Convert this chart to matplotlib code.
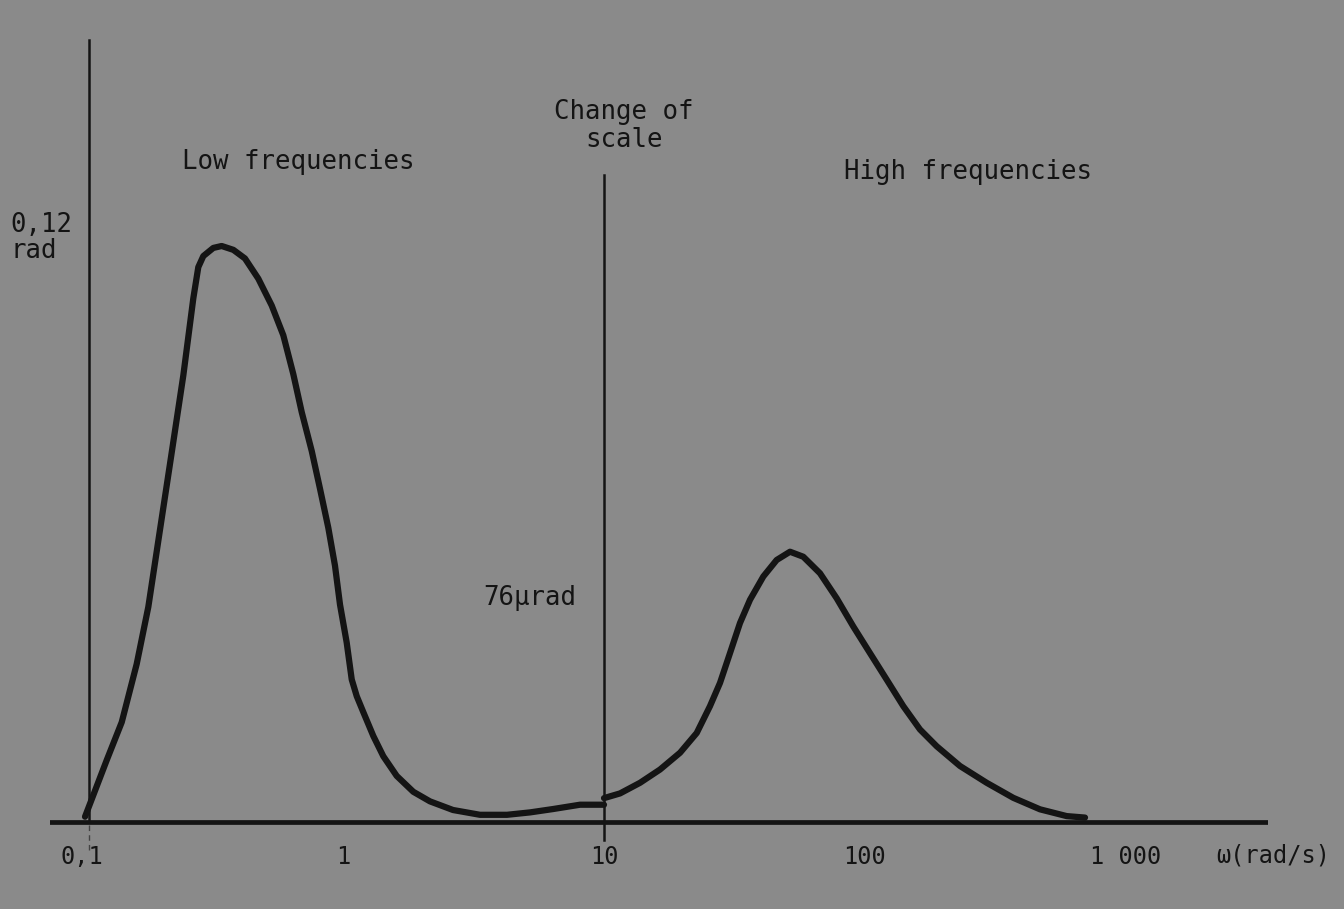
import numpy as np
import matplotlib.pyplot as plt
from matplotlib.ticker import NullLocator

plt.rcParams['font.family'] = ['DejaVu Sans Mono', 'DejaVu Sans']

# low-frequency band, amplitude in rad
omega_low = [0.1027, 0.1089, 0.1244, 0.1420, 0.1620, 0.1795, 0.1990, 0.2207,
             0.2444, 0.2670, 0.2790, 0.2916, 0.3185, 0.3429, 0.3800, 0.4212,
             0.4737, 0.5332, 0.5906, 0.6451, 0.6947, 0.7589, 0.8166, 0.8784,
             0.9318, 0.9739, 1.033, 1.080, 1.129, 1.196, 1.307, 1.427,
             1.606, 1.859, 2.154, 2.639, 3.349, 4.250, 5.206, 6.378,
             8.091, 10.0]
theta_low = [0.0011, 0.0047, 0.0129, 0.0208, 0.0329, 0.0448, 0.0609, 0.0770,
             0.0930, 0.1091, 0.1156, 0.1179, 0.1196, 0.1200, 0.1192, 0.1174,
             0.1132, 0.1076, 0.1014, 0.0933, 0.0854, 0.0773, 0.0694, 0.0613,
             0.0534, 0.0453, 0.0374, 0.0297, 0.0262, 0.0229, 0.0179, 0.0137,
             0.0096, 0.0063, 0.0043, 0.0025, 0.0015, 0.0015, 0.0020, 0.0027,
             0.0036, 0.0036]

# high-frequency band, amplitude in µrad
omega_high = [10.0, 11.52, 13.74, 16.39, 19.56, 22.66, 25.47, 27.83, 30.39,
              33.19, 36.26, 40.78, 45.88, 51.60, 58.01, 67.22, 77.90, 90.22,
              104.5, 121.1, 140.2, 162.4, 188.2, 231.2, 292.6, 370.0, 468.3,
              592.7, 696.5]
theta_high = [8.1, 9.7, 13.3, 17.8, 23.5, 30.2, 39.3, 47.2, 57.3,
              67.5, 75.4, 83.3, 88.9, 91.7, 90.0, 84.4, 75.9, 66.3,
              57.3, 48.3, 39.3, 31.4, 25.7, 19.0, 13.3, 8.2, 4.3,
              2.0, 1.5]

tick_values = [0.1, 1, 10, 100, 1000]
tick_labels = ['0,1', '1', '10', '100', '1 000']

LOW_REF = 0.12    # rad
HIGH_REF = 76     # µrad

# layout, in pixels of the 1344x909 canvas
W, H = 1344, 909
AX_L, AX_R, AX_T, AX_B = 50, 1268, 30, 835
BASE = 822          # pixel row of the zero line
DECADE = 261        # pixels per decade of omega
X0 = 82             # pixel column of omega = 0.1
LOW_PX = 576        # pixels for LOW_REF
HIGH_PX = 224       # pixels for HIGH_REF

INK = '#141414'
BG = '#8a8a8a'


def om(px):
    return 0.1 * 10 ** ((px - X0) / DECADE)


def frac(py):
    return (AX_B - py) / (AX_B - AX_T)


fig = plt.figure(figsize=(W / 100, H / 100), dpi=100, facecolor=BG)
ax = fig.add_axes([AX_L / W, (H - AX_B) / H, (AX_R - AX_L) / W, (AX_B - AX_T) / H])
ax.set_xscale('log')
ax.set_xlim(om(AX_L), om(AX_R))
rad_pp = LOW_REF / LOW_PX
ax.set_ylim(-(AX_B - BASE) * rad_pp, (BASE - AX_T) * rad_pp)
ax.set_facecolor(BG)

ax2 = ax.twinx()
urad_pp = HIGH_REF / HIGH_PX
ax2.set_ylim(-(AX_B - BASE) * urad_pp, (BASE - AX_T) * urad_pp)
ax2.patch.set_visible(False)

for a in (ax, ax2):
    for s in a.spines.values():
        s.set_visible(False)
    a.set_yticks([])

# zero line and the two vertical axes
ax.axhline(0, color=INK, lw=3.4, zorder=3)
ax.axvline(0.106, ymin=frac(BASE), ymax=frac(40), color=INK, lw=1.8)
ax.axvline(0.106, ymin=frac(850), ymax=frac(BASE), color=INK, lw=1.0, alpha=0.6,
           ls=(0, (4, 3)), clip_on=False)
ax.axvline(10, ymin=frac(840), ymax=frac(175), color=INK, lw=1.8, clip_on=False)

# spectra
ax.plot(omega_low, theta_low, color=INK, lw=4.5,
        solid_capstyle='round', solid_joinstyle='round', zorder=4)
ax2.plot(omega_high, theta_high, color=INK, lw=4.5,
         solid_capstyle='round', solid_joinstyle='round', zorder=4)

ax.set_xticks(tick_values, tick_labels)
ax.xaxis.set_minor_locator(NullLocator())
ax.tick_params(axis='x', length=0, pad=7, labelsize=17, labelcolor=INK)

xt = ax.get_xaxis_transform()
fs = 18.5
ax.text(om(1273), frac(855), 'ω(rad/s)', transform=xt, ha='center', va='center',
        fontsize=17, color=INK, clip_on=False)
ax.text(om(298), frac(162), 'Low frequencies', transform=xt, ha='center',
        va='center', fontsize=fs, color=INK)
ax.text(om(968), frac(172), 'High frequencies', transform=xt, ha='center',
        va='center', fontsize=fs, color=INK)
ax.text(om(624), frac(126), 'Change of\nscale', transform=xt, ha='center',
        va='center', fontsize=fs, color=INK, linespacing=1.1)
ax.text(om(10), LOW_REF + 8 * rad_pp, '0,12\nrad', ha='left', va='center',
        fontsize=fs, color=INK, linespacing=1.0, clip_on=False)
ax2.text(om(576), HIGH_REF, '76µrad', ha='right', va='center',
         fontsize=fs, color=INK)

fig.savefig('out.png', dpi=100, facecolor=BG)
